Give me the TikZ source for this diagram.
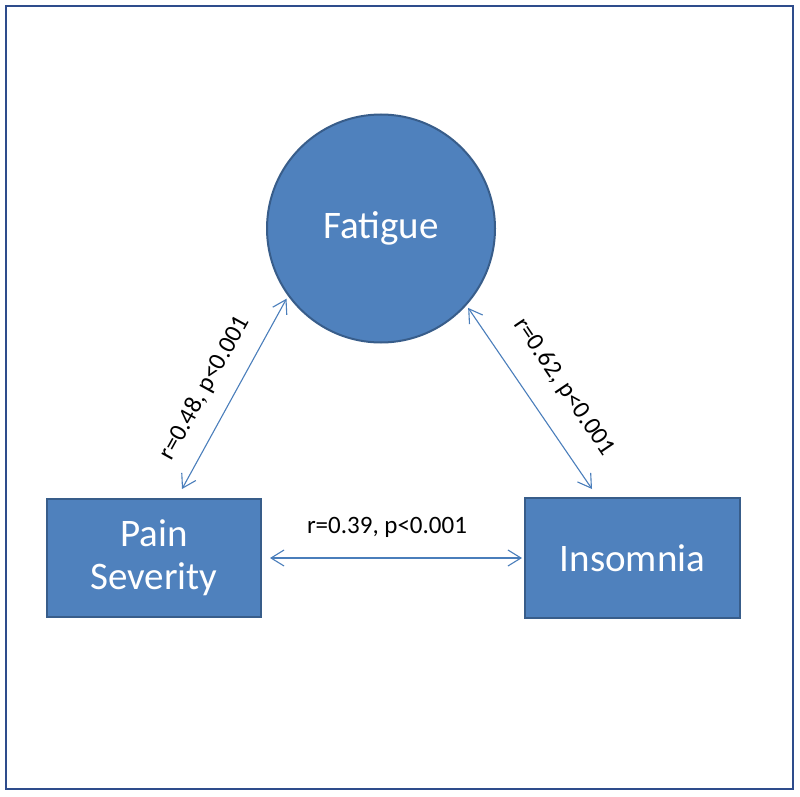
\documentclass[tikz,border=0pt]{standalone}
\usepackage{fontspec}
\setmainfont{Carlito}
\usetikzlibrary{arrows.meta}
\definecolor{shapefill}{HTML}{4F81BD}
\definecolor{shapeline}{HTML}{385D8A}
\definecolor{connline}{HTML}{4A7EBB}
\definecolor{framecol}{HTML}{2E4C8C}
\begin{document}
\begin{tikzpicture}[x=1pt,y=-1pt,
  varbox/.style={draw=shapeline,fill=shapefill,line width=2pt,text=white,
    font=\fontsize{39}{43}\selectfont,align=center,inner sep=0pt},
  conn/.style={draw=connline,line width=1.1pt,
    {Straight Barb[length=13pt,width=16pt,line width=1.1pt]}-{Straight Barb[length=13pt,width=16pt,line width=1.1pt]}},
  lbl/.style={font=\fontsize{25}{30}\selectfont,text=black,inner sep=0pt}]
\fill[white] (0,0) rectangle (800,797);
\useasboundingbox (0,0) rectangle (800,797);
\draw[framecol,line width=2pt] (6,6) rectangle (793,789);
\node[varbox,circle,minimum size=228pt] (F) at (381,228.5) {Fatigue};
\node[varbox,rectangle,minimum width=214pt,minimum height=118pt] (P) at (154,558) {Pain\\Severity};
\node[varbox,rectangle,minimum width=215pt,minimum height=120pt] (I) at (632.5,558) {Insomnia};
\draw[conn,shorten >=3pt] ([xshift=28pt,yshift=9pt]P.north) -- (F.216.5);
\draw[conn,shorten >=3pt] ([xshift=-40.5pt,yshift=8pt]I.north) -- (F.318.6);
\draw[conn,shorten <=8pt,shorten >=2pt] (P.east) -- (I.west);
\node[lbl,rotate=61] (L1) at (205,388) {r=0.48, p<0.001};
\node[lbl,rotate=-56] (L2) at (564,387) {r=0.62, p<0.001};
\node[lbl] (L3) at (387,527) {r=0.39, p<0.001};
\end{tikzpicture}
\end{document}
